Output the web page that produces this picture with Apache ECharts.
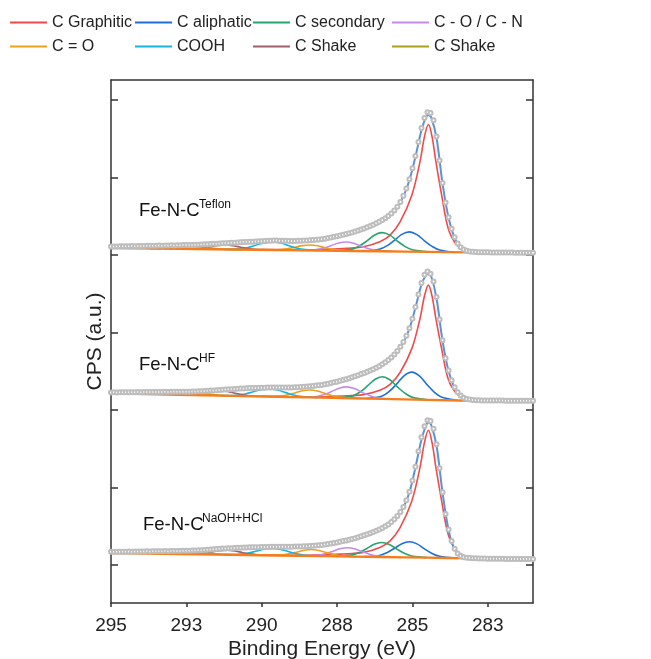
<!DOCTYPE html>
<html>
<head>
<meta charset="utf-8">
<title>C 1s XPS</title>
<script src="https://cdn.jsdelivr.net/npm/echarts@6/dist/echarts.min.js"></script>
<style>
  html, body { margin: 0; padding: 0; background: #fff; }
  #chart { width: 651px; height: 659px; }
</style>
</head>
<body>
<div id="chart"></div>
<script>
// x grid of the measured spectra: 295.0 -> 281.0 eV, step 0.1
var energy = []
for (var i = 0; i <= 140; i++) energy.push(+(295 - i * 0.1).toFixed(1))

var xTicks = [295, 292.5, 290, 287.5, 285, 282.5]
var yTicks = [0, 1, 2, 3, 4, 5, 6]

// stacking offset of each spectrum (top -> bottom)
var offsets = [3.95, 2.04, 0]
var sampleNames = ['Teflon', 'HF', 'NaOH+HCl']

var componentNames = ['C Graphitic', 'C aliphatic', 'C secondary', 'C - O / C - N', 'C = O', 'COOH', 'C Shake 1', 'C Shake 2']
var componentColors = ['#f04a4a', '#1f6fd8', '#27a56f', '#c58af0', '#eca21e', '#18b4e0', '#a0606c', '#a89f1c']

// ---- measured points (open circles) ----
var teflonCps = [
  0.160, 0.162, 0.161, 0.163, 0.164, 0.163, 0.165, 0.166, 0.165, 0.168,
  0.169, 0.168, 0.170, 0.171, 0.170, 0.172, 0.173, 0.172, 0.174, 0.175,
  0.176, 0.175, 0.177, 0.178, 0.179, 0.180, 0.181, 0.182, 0.184, 0.185,
  0.187, 0.189, 0.191, 0.193, 0.196, 0.198, 0.200, 0.202, 0.204, 0.206,
  0.208, 0.210, 0.213, 0.215, 0.218, 0.220, 0.222, 0.224, 0.226, 0.228,
  0.230,
  0.232, 0.234, 0.236, 0.237, 0.237, 0.236, 0.235, 0.234, 0.233, 0.233,
  0.233, 0.234, 0.235, 0.237, 0.239, 0.241, 0.244, 0.247, 0.251, 0.256,
  0.262, 0.270, 0.278, 0.286, 0.294, 0.303, 0.313, 0.323, 0.333, 0.343,
  0.354, 0.366, 0.380, 0.395, 0.410, 0.426, 0.443, 0.462, 0.482, 0.503,
  0.527, 0.555, 0.588, 0.627, 0.675, 0.735, 0.815, 0.910, 1.030, 1.170,
  1.330, 1.510, 1.690, 1.820, 1.895, 1.885, 1.790, 1.580, 1.270, 0.980,
  0.730, 0.540, 0.390, 0.280, 0.200, 0.152, 0.122, 0.106, 0.097, 0.092,
  0.089, 0.088, 0.087, 0.086, 0.086, 0.085, 0.085, 0.084, 0.084, 0.084,
  0.083, 0.083, 0.083, 0.082, 0.082, 0.082, 0.081, 0.081, 0.081, 0.080
]
var hfCps = [
  0.188, 0.189, 0.188, 0.190, 0.189, 0.190, 0.191, 0.190, 0.191, 0.192,
  0.191, 0.192, 0.193, 0.192, 0.193, 0.194, 0.193, 0.194, 0.195, 0.194,
  0.195, 0.196, 0.195, 0.196, 0.197, 0.197, 0.198, 0.199, 0.200, 0.202,
  0.204, 0.206, 0.208, 0.211, 0.214, 0.217, 0.220, 0.223, 0.226, 0.228,
  0.230, 0.232, 0.235, 0.237, 0.240, 0.242, 0.244, 0.245, 0.246, 0.247,
  0.248,
  0.249, 0.250, 0.251, 0.251, 0.251, 0.250, 0.250, 0.250, 0.251, 0.252,
  0.254, 0.256, 0.259, 0.262, 0.265, 0.269, 0.272, 0.276, 0.280, 0.285,
  0.292, 0.300, 0.309, 0.318, 0.327, 0.337, 0.348, 0.359, 0.371, 0.383,
  0.396, 0.410, 0.425, 0.440, 0.455, 0.470, 0.487, 0.506, 0.527, 0.550,
  0.576, 0.605, 0.638, 0.678, 0.724, 0.777, 0.840, 0.918, 1.015, 1.140,
  1.290, 1.450, 1.600, 1.705, 1.750, 1.720, 1.620, 1.420, 1.130, 0.860,
  0.630, 0.470, 0.345, 0.255, 0.190, 0.148, 0.120, 0.104, 0.095, 0.090,
  0.088, 0.086, 0.085, 0.084, 0.084, 0.083, 0.083, 0.082, 0.082, 0.082,
  0.081, 0.081, 0.081, 0.080, 0.080, 0.080, 0.080, 0.079, 0.079, 0.079
]
var naohCps = [
  0.170, 0.172, 0.171, 0.172, 0.173, 0.172, 0.174, 0.173, 0.175, 0.174,
  0.176, 0.175, 0.177, 0.176, 0.178, 0.177, 0.179, 0.178, 0.180, 0.179,
  0.181, 0.181, 0.182, 0.182, 0.183, 0.184, 0.185, 0.186, 0.188, 0.190,
  0.192, 0.195, 0.198, 0.201, 0.204, 0.207, 0.210, 0.212, 0.214, 0.216,
  0.218, 0.220, 0.222, 0.223, 0.225, 0.226, 0.228, 0.229, 0.230, 0.231,
  0.232,
  0.233, 0.234, 0.235, 0.236, 0.236, 0.236, 0.236, 0.236, 0.236, 0.237,
  0.238, 0.239, 0.240, 0.242, 0.244, 0.246, 0.248, 0.251, 0.254, 0.258,
  0.264, 0.271, 0.278, 0.285, 0.292, 0.300, 0.309, 0.318, 0.327, 0.336,
  0.346, 0.357, 0.370, 0.383, 0.396, 0.410, 0.425, 0.442, 0.460, 0.479,
  0.500, 0.524, 0.555, 0.590, 0.632, 0.685, 0.750, 0.835, 0.945, 1.090,
  1.270, 1.470, 1.650, 1.790, 1.870, 1.860, 1.760, 1.560, 1.250, 0.940,
  0.660, 0.460, 0.310, 0.210, 0.150, 0.118, 0.102, 0.094, 0.090, 0.088,
  0.086, 0.085, 0.084, 0.083, 0.082, 0.082, 0.081, 0.081, 0.080, 0.080,
  0.079, 0.079, 0.079, 0.078, 0.078, 0.078, 0.077, 0.077, 0.077, 0.077
]

// ---- fit envelopes ----
var teflonEnvelope = [[295, 0.150], [293, 0.165], [291, 0.200], [289.5, 0.228], [288.5, 0.235], [287.8, 0.265], [287.2, 0.318], [286.6, 0.390], [286.0, 0.500], [285.6, 0.620], [285.3, 0.810], [285.1, 1.020], [284.9, 1.320], [284.7, 1.660], [284.55, 1.830], [284.47, 1.855], [284.38, 1.830], [284.2, 1.560], [284.0, 0.970], [283.8, 0.530], [283.6, 0.270], [283.4, 0.145], [283.2, 0.100], [283.0, 0.088]]
var hfEnvelope = [[295, 0.182], [293, 0.190], [291, 0.225], [289.5, 0.245], [288.5, 0.260], [287.8, 0.295], [287.2, 0.355], [286.6, 0.435], [286.0, 0.545], [285.6, 0.672], [285.3, 0.835], [285.1, 1.010], [284.9, 1.280], [284.7, 1.580], [284.55, 1.700], [284.47, 1.720], [284.38, 1.690], [284.2, 1.400], [284.0, 0.850], [283.8, 0.460], [283.6, 0.245], [283.4, 0.140], [283.2, 0.100], [283.0, 0.087]]
var naohEnvelope = [[295, 0.163], [293, 0.175], [291, 0.212], [289.5, 0.232], [288.5, 0.240], [287.8, 0.267], [287.2, 0.315], [286.6, 0.380], [286.0, 0.475], [285.6, 0.585], [285.3, 0.745], [285.1, 0.940], [284.9, 1.260], [284.7, 1.620], [284.55, 1.800], [284.47, 1.840], [284.38, 1.810], [284.2, 1.540], [284.0, 0.930], [283.8, 0.450], [283.6, 0.200], [283.4, 0.115], [283.2, 0.092], [283.0, 0.087]]

// ---- backgrounds ----
var teflonBackground = [[295, 0.140], [291, 0.122], [288, 0.108], [286, 0.099], [284.5, 0.092], [283, 0.085]]
var hfBackground = [[295, 0.175], [291, 0.143], [288, 0.120], [286, 0.104], [284.5, 0.092], [283, 0.080]]
var naohBackground = [[295, 0.155], [291, 0.132], [288, 0.115], [286, 0.103], [284.5, 0.095], [283, 0.086]]

// ---- fitted components, Fe-N-C Teflon ----
var teflonGraphitic = [[290, 0.121], [288.5, 0.118], [287.3, 0.136], [286.63, 0.158], [286.08, 0.222], [285.74, 0.308], [285.41, 0.480], [285.02, 0.824], [284.75, 1.254], [284.6, 1.580], [284.47, 1.736], [284.35, 1.580], [284.22, 1.254], [284.03, 0.824], [283.81, 0.390], [283.53, 0.180], [283.25, 0.115], [283.0, 0.090]]
var teflonAliphatic = [[286.6, 0.103], [286.1, 0.125], [285.85, 0.169], [285.6, 0.240], [285.35, 0.318], [285.1, 0.350], [284.85, 0.315], [284.6, 0.235], [284.35, 0.163], [284.1, 0.116], [283.6, 0.089]]
var teflonSecondary = [[287.5, 0.107], [287.0, 0.127], [286.75, 0.170], [286.5, 0.236], [286.25, 0.310], [286.0, 0.340], [285.75, 0.308], [285.5, 0.231], [285.25, 0.163], [285.0, 0.118], [284.5, 0.093]]
var teflonCO = [[288.7, 0.112], [288.2, 0.120], [287.95, 0.140], [287.7, 0.172], [287.45, 0.206], [287.2, 0.220], [286.95, 0.204], [286.7, 0.167], [286.45, 0.133], [286.2, 0.111], [285.7, 0.098]]
var teflonCarbonyl = [[289.9, 0.117], [289.4, 0.121], [289.15, 0.133], [288.9, 0.151], [288.65, 0.172], [288.4, 0.180], [288.15, 0.170], [287.9, 0.146], [287.65, 0.126], [287.4, 0.112], [286.9, 0.103]]
var teflonCOOH = [[291.25, 0.123], [290.75, 0.131], [290.45, 0.149], [290.2, 0.177], [289.93, 0.208], [289.65, 0.221], [289.37, 0.206], [289.1, 0.172], [288.85, 0.141], [288.55, 0.121], [288.05, 0.109]]
var teflonShake1 = [[292.7, 0.130], [292.2, 0.133], [291.95, 0.142], [291.7, 0.157], [291.45, 0.173], [291.2, 0.180], [290.95, 0.171], [290.7, 0.152], [290.45, 0.135], [290.2, 0.124], [289.7, 0.116]]
var teflonShake2 = [[293.7, 0.134], [293.2, 0.135], [292.95, 0.139], [292.7, 0.146], [292.45, 0.154], [292.2, 0.157], [291.95, 0.152], [291.7, 0.142], [291.45, 0.132], [291.2, 0.126], [290.7, 0.121]]

// ---- fitted components, Fe-N-C HF ----
var hfGraphitic = [[290, 0.139], [288.5, 0.131], [287.3, 0.142], [286.63, 0.159], [286.08, 0.215], [285.74, 0.291], [285.41, 0.445], [285.02, 0.753], [284.75, 1.139], [284.6, 1.432], [284.47, 1.572], [284.35, 1.431], [284.22, 1.137], [284.03, 0.749], [283.81, 0.357], [283.53, 0.168], [283.25, 0.108], [283.0, 0.085]]
var hfAliphatic = [[286.52, 0.110], [286.02, 0.139], [285.77, 0.201], [285.52, 0.298], [285.27, 0.406], [285.02, 0.450], [284.77, 0.402], [284.52, 0.290], [284.27, 0.189], [284.02, 0.124], [283.52, 0.086]]
var hfSecondary = [[287.5, 0.117], [287.0, 0.140], [286.75, 0.190], [286.5, 0.268], [286.25, 0.355], [286.0, 0.390], [285.75, 0.351], [285.5, 0.260], [285.25, 0.178], [285.0, 0.124], [284.5, 0.094]]
var hfCO = [[288.68, 0.126], [288.18, 0.136], [287.93, 0.160], [287.68, 0.199], [287.43, 0.243], [287.18, 0.260], [286.93, 0.239], [286.68, 0.191], [286.43, 0.148], [286.18, 0.120], [285.68, 0.102]]
var hfCarbonyl = [[289.9, 0.135], [289.4, 0.140], [289.15, 0.156], [288.9, 0.181], [288.65, 0.209], [288.4, 0.220], [288.15, 0.205], [287.9, 0.173], [287.65, 0.144], [287.4, 0.125], [286.9, 0.111]]
var hfCOOH = [[291.35, 0.147], [290.85, 0.152], [290.55, 0.168], [290.3, 0.194], [290.03, 0.223], [289.75, 0.233], [289.47, 0.218], [289.2, 0.185], [288.95, 0.155], [288.65, 0.135], [288.15, 0.121]]
var hfShake1 = [[292.88, 0.158], [292.38, 0.161], [292.13, 0.170], [291.88, 0.186], [291.63, 0.204], [291.38, 0.210], [291.13, 0.200], [290.88, 0.178], [290.63, 0.158], [290.38, 0.145], [289.88, 0.135]]
var hfShake2 = [[293.77, 0.165], [293.27, 0.164], [293.02, 0.168], [292.77, 0.174], [292.52, 0.181], [292.27, 0.183], [292.02, 0.177], [291.77, 0.166], [291.52, 0.156], [291.27, 0.148], [290.77, 0.142]]

// ---- fitted components, Fe-N-C NaOH+HCl ----
var naohGraphitic = [[290, 0.130], [288.5, 0.126], [287.3, 0.142], [286.63, 0.163], [286.08, 0.227], [285.74, 0.312], [285.41, 0.484], [285.02, 0.828], [284.75, 1.257], [284.6, 1.583], [284.47, 1.739], [284.35, 1.583], [284.22, 1.256], [284.03, 0.826], [283.81, 0.392], [283.53, 0.182], [283.25, 0.116], [283.0, 0.091]]
var naohAliphatic = [[286.6, 0.108], [286.1, 0.124], [285.85, 0.159], [285.6, 0.214], [285.35, 0.276], [285.1, 0.300], [284.85, 0.273], [284.6, 0.208], [284.35, 0.150], [284.1, 0.113], [283.6, 0.091]]
var naohSecondary = [[287.52, 0.113], [287.02, 0.128], [286.77, 0.160], [286.52, 0.211], [286.27, 0.268], [286.02, 0.290], [285.77, 0.265], [285.52, 0.206], [285.27, 0.151], [285.02, 0.116], [284.52, 0.096]]
var naohCO = [[288.65, 0.119], [288.15, 0.127], [287.9, 0.146], [287.65, 0.176], [287.4, 0.210], [287.15, 0.223], [286.9, 0.207], [286.65, 0.170], [286.4, 0.137], [286.15, 0.115], [285.65, 0.102]]
var naohCarbonyl = [[289.85, 0.126], [289.35, 0.131], [289.1, 0.144], [288.85, 0.166], [288.6, 0.190], [288.35, 0.200], [288.1, 0.188], [287.85, 0.160], [287.6, 0.136], [287.35, 0.119], [286.85, 0.109]]
var naohCOOH = [[291.25, 0.134], [290.75, 0.140], [290.45, 0.154], [290.2, 0.178], [289.93, 0.205], [289.65, 0.215], [289.37, 0.202], [289.1, 0.172], [288.85, 0.145], [288.55, 0.127], [288.05, 0.116]]
var naohShake1 = [[292.65, 0.142], [292.15, 0.144], [291.9, 0.153], [291.65, 0.168], [291.4, 0.184], [291.15, 0.190], [290.9, 0.181], [290.65, 0.162], [290.4, 0.145], [290.15, 0.133], [289.65, 0.125]]
var naohShake2 = [[293.7, 0.148], [293.2, 0.147], [292.95, 0.150], [292.7, 0.156], [292.45, 0.162], [292.2, 0.164], [291.95, 0.159], [291.7, 0.150], [291.45, 0.142], [291.2, 0.136], [290.7, 0.131]]

var panels = [
  { cps: teflonCps, envelope: teflonEnvelope, background: teflonBackground,
    components: [teflonGraphitic, teflonAliphatic, teflonSecondary, teflonCO, teflonCarbonyl, teflonCOOH, teflonShake1, teflonShake2] },
  { cps: hfCps, envelope: hfEnvelope, background: hfBackground,
    components: [hfGraphitic, hfAliphatic, hfSecondary, hfCO, hfCarbonyl, hfCOOH, hfShake1, hfShake2] },
  { cps: naohCps, envelope: naohEnvelope, background: naohBackground,
    components: [naohGraphitic, naohAliphatic, naohSecondary, naohCO, naohCarbonyl, naohCOOH, naohShake1, naohShake2] }
]

var FONT = 'Liberation Sans, Arial, sans-serif'
var chart = echarts.init(document.getElementById('chart'), null, { renderer: 'canvas' })

function shift(points, off) {
  return points.map(function (p) { return [p[0], p[1] + off] })
}

var series = []
panels.forEach(function (panel, i) {
  var off = offsets[i]
  panel.components.forEach(function (pts, k) {
    series.push({
      type: 'line',
      name: componentNames[k],
      data: shift(pts, off),
      smooth: 0.35,
      showSymbol: false,
      color: componentColors[k],
      lineStyle: { width: 1.6, color: componentColors[k] },
      z: 2
    })
  })
  series.push({
    type: 'line',
    name: 'background' + i,
    data: shift(panel.background, off),
    smooth: 0.3,
    showSymbol: false,
    lineStyle: { width: 2.4, color: '#f77d1c' },
    z: 3
  })
  series.push({
    type: 'line',
    name: 'envelope' + i,
    data: shift(panel.envelope, off),
    smooth: 0.35,
    showSymbol: false,
    lineStyle: { width: 2, color: '#5d93d3' },
    z: 4
  })
  series.push({
    type: 'line',
    name: 'cps' + i,
    data: panel.cps.map(function (v, j) { return [energy[j], v + off] }),
    symbol: 'emptyCircle',
    symbolSize: 4,
    showAllSymbol: true,
    itemStyle: { color: '#bdbdbd', borderWidth: 0.9 },
    lineStyle: { width: 0 },
    z: 5
  })
})

function legendColumn(left, names) {
  return {
    orient: 'vertical',
    left: left,
    top: 14,
    padding: 0,
    itemWidth: 37,
    itemHeight: 2,
    itemGap: 7,
    icon: 'rect',
    selectedMode: false,
    data: names,
    formatter: function (n) { return n.replace(/ \d$/, '') },
    textStyle: { fontSize: 16, color: '#222', fontFamily: FONT, lineHeight: 17 }
  }
}

var labelGraphics = []
var labelPos = [[139, 211, 199, 205], [139, 364.5, 199, 359], [143, 525, 202, 519]]
sampleNames.forEach(function (s, i) {
  var p = labelPos[i]
  labelGraphics.push({
    type: 'text', x: p[0], y: p[1],
    style: { text: 'Fe-N-C', fontSize: 18.5, fontFamily: FONT, fill: '#111', verticalAlign: 'middle' }
  })
  labelGraphics.push({
    type: 'text', x: p[2], y: p[3],
    style: { text: s, fontSize: 12, fontFamily: FONT, fill: '#111', verticalAlign: 'middle' }
  })
})

var axisLineStyle = { color: '#333', width: 1.5 }

chart.setOption({
  animation: false,
  backgroundColor: '#fff',
  textStyle: { fontFamily: FONT },
  legend: [
    legendColumn(10, ['C Graphitic', 'C = O']),
    legendColumn(135, ['C aliphatic', 'COOH']),
    legendColumn(253, ['C secondary', 'C Shake 1']),
    legendColumn(392, ['C - O / C - N', 'C Shake 2'])
  ],
  grid: { left: 111, top: 80, right: 118, bottom: 56, outerBoundsMode: 'none', containLabel: false },
  xAxis: [
    {
      type: 'value', min: 281, max: 295, inverse: true, position: 'bottom',
      name: 'Binding Energy (eV)', nameLocation: 'middle', nameGap: 36, nameMoveOverlap: false,
      nameTextStyle: { fontSize: 21, color: '#222', fontFamily: FONT },
      axisLine: { onZero: false, lineStyle: axisLineStyle },
      axisTick: { show: true, inside: false, length: 4, customValues: xTicks, lineStyle: axisLineStyle },
      axisLabel: { customValues: xTicks, fontSize: 19, color: '#222', margin: 13, fontFamily: FONT,
        formatter: function (v) { return String(Math.round(v)) } },
      splitLine: { show: false }
    },
    {
      type: 'value', min: 281, max: 295, inverse: true, position: 'top',
      axisLine: { onZero: false, lineStyle: axisLineStyle },
      axisTick: { show: false }, axisLabel: { show: false }, splitLine: { show: false }
    }
  ],
  yAxis: [
    {
      type: 'value', min: -0.49, max: 6.26, position: 'left',
      name: 'CPS (a.u.)', nameLocation: 'middle', nameGap: 5, nameMoveOverlap: false,
      nameTextStyle: { fontSize: 21, color: '#222', fontFamily: FONT },
      axisLine: { show: true, onZero: false, lineStyle: axisLineStyle },
      axisTick: { show: true, inside: true, length: 7, customValues: yTicks, lineStyle: axisLineStyle },
      axisLabel: { show: false },
      splitLine: { show: false }
    },
    {
      type: 'value', min: -0.49, max: 6.26, position: 'right',
      axisLine: { show: true, onZero: false, lineStyle: axisLineStyle },
      axisTick: { show: true, inside: true, length: 7, customValues: yTicks, lineStyle: axisLineStyle },
      axisLabel: { show: false },
      splitLine: { show: false }
    }
  ],
  graphic: labelGraphics,
  series: series
})
</script>
</body>
</html>
